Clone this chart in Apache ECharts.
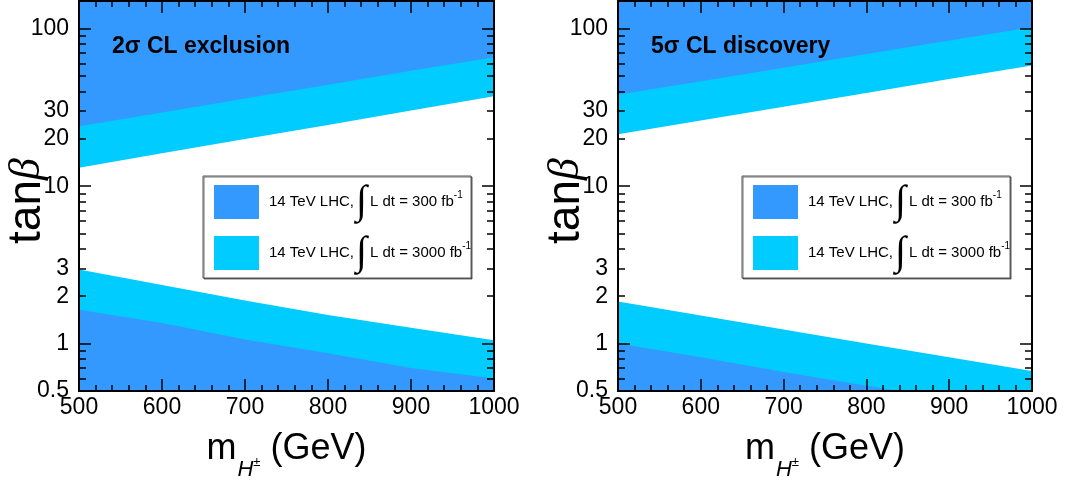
<!DOCTYPE html>
<html><head><meta charset="utf-8">
<script src="https://cdn.jsdelivr.net/npm/echarts@6/dist/echarts.min.js"></script>
<style>html,body{margin:0;padding:0;background:#fff}#c{width:1068px;height:483px}</style>
</head><body><div id="c"></div>
<script>
// ---- data ----
const masses = [500, 600, 700, 800, 900, 1000];
// 2 sigma exclusion panel
const excl300Upper  = [24.0, 29.4, 36.0, 44.0, 54.0, 66.0];
const excl3000Upper = [13.1, 16.2, 19.9, 24.5, 30.2, 37.2];
const excl3000Lower = [2.96, 2.36, 1.88, 1.52, 1.26, 1.05];
const excl300Lower  = [1.64, 1.35, 1.06, 0.87, 0.70, 0.60];
// 5 sigma discovery panel
const disc300Upper  = [38.1, 46.4, 56.6, 69.0, 84.1, 102];
const disc3000Upper = [21.4, 26.1, 32.0, 39.1, 47.9, 58.5];
const disc3000Lower = [1.85, 1.51, 1.23, 1.00, 0.82, 0.67];
const disc300LowerMasses = [500, 600, 700, 800, 840];
const disc300Lower  = [1.00, 0.82, 0.66, 0.54, 0.50];
// ticks
const yTickLabels = [0.5, 1, 2, 3, 10, 20, 30, 100];
const yMajorTicks = [1, 10, 100];
const yMinorTicks = [0.6, 0.7, 0.8, 0.9, 2, 3, 4, 5, 6, 7, 8, 9, 20, 30, 40, 50, 60, 70, 80, 90];
const panelTitles = ['2σ CL exclusion', '5σ CL discovery'];
const legendNames = ['L300', 'L3000'];
const legendLumi = {L300: '300', L3000: '3000'};

const C300 = '#3399ff', C3000 = '#00ccff';
const FONT = 'Liberation Sans, Arial, Helvetica, sans-serif';

const grids = [
  {left: 79, top: 1, width: 415, height: 390, outerBoundsMode: 'none', containLabel: false},
  {left: 618, top: 1, width: 414, height: 390, outerBoundsMode: 'none', containLabel: false}
];

function pairs(xs, ys) { return xs.map((x, i) => [x, ys[i]]); }

const xAxes = [], yAxes = [], series = [], legends = [], titles = [];
const black = {color: '#000', width: 2};
const tickStyle = {color: '#000', width: 1.5};
const AZ = 10;

grids.forEach((g, gi) => {
  // bottom x axis with labels
  xAxes.push({
    gridIndex: gi, type: 'value', min: 500, max: 1000, interval: 100, position: 'bottom', z: AZ,
    axisLine: {show: true, lineStyle: black},
    axisTick: {show: true, inside: true, length: 12, lineStyle: tickStyle},
    minorTick: {show: true, splitNumber: 5, length: 6, lineStyle: tickStyle},
    splitLine: {show: false}, minorSplitLine: {show: false},
    axisLabel: {fontSize: 23, color: '#000', fontFamily: FONT, margin: 5, formatter: v => String(v)},
    name: '{m|m}{h|H}{pm|±}{g| (GeV)}',
    nameLocation: 'middle', nameGap: 38, nameMoveOverlap: false,
    nameTextStyle: {
      color: '#000', fontFamily: FONT,
      rich: {
        m: {fontSize: 36, fontFamily: FONT, color: '#000', lineHeight: 40},
        h: {fontSize: 22, fontFamily: FONT, fontStyle: 'italic', color: '#000', lineHeight: 22, verticalAlign: 'top', padding: [30, 0, 0, 1]},
        pm: {fontSize: 13, fontFamily: FONT, fontStyle: 'italic', color: '#000', lineHeight: 13, verticalAlign: 'top', padding: [27, 0, 0, 0]},
        g: {fontSize: 36, fontFamily: FONT, color: '#000', lineHeight: 40}
      }
    }
  });
  // top x axis (ticks only)
  xAxes.push({
    gridIndex: gi, type: 'value', min: 500, max: 1000, interval: 100, position: 'top', z: AZ,
    axisLine: {show: true, lineStyle: black},
    axisTick: {show: true, inside: true, length: 12, lineStyle: tickStyle},
    minorTick: {show: true, splitNumber: 5, length: 6, lineStyle: tickStyle},
    splitLine: {show: false}, axisLabel: {show: false}
  });
  // left y axis: labels + decade ticks
  yAxes.push({
    gridIndex: gi, type: 'log', logBase: 10, min: 0.5, max: 150, position: 'left', z: AZ,
    axisLine: {show: true, lineStyle: black},
    axisTick: {show: true, inside: true, length: 12, lineStyle: tickStyle, customValues: yMajorTicks},
    axisLabel: {fontSize: 23, color: '#000', fontFamily: FONT, margin: 10, customValues: yTickLabels,
      formatter: v => String(v)},
    splitLine: {show: false},
    name: '{t|tan}{b|β}', nameLocation: 'middle', nameRotate: 90, nameGap: 29, nameMoveOverlap: false,
    nameTextStyle: {
      rich: {
        t: {fontSize: 46, fontFamily: FONT, color: '#000'},
        b: {fontSize: 44, fontFamily: 'Liberation Serif, DejaVu Serif, serif', fontStyle: 'italic', color: '#000', padding: [0, 10, 0, 0]}
      }
    }
  });
  // left y axis: minor ticks
  yAxes.push({
    gridIndex: gi, type: 'log', logBase: 10, min: 0.5, max: 150, position: 'left', z: AZ,
    axisLine: {show: false},
    axisTick: {show: true, inside: true, length: 7, lineStyle: tickStyle, customValues: yMinorTicks},
    axisLabel: {show: false}, splitLine: {show: false}
  });
  // right y axis: decade ticks
  yAxes.push({
    gridIndex: gi, type: 'log', logBase: 10, min: 0.5, max: 150, position: 'right', z: AZ,
    axisLine: {show: true, lineStyle: black},
    axisTick: {show: true, inside: true, length: 12, lineStyle: tickStyle, customValues: yMajorTicks},
    axisLabel: {show: false}, splitLine: {show: false}
  });
  // right y axis: minor ticks
  yAxes.push({
    gridIndex: gi, type: 'log', logBase: 10, min: 0.5, max: 150, position: 'right', z: AZ,
    axisLine: {show: false},
    axisTick: {show: true, inside: true, length: 7, lineStyle: tickStyle, customValues: yMinorTicks},
    axisLabel: {show: false}, splitLine: {show: false}
  });

  const xi = gi * 2, yi = gi * 4;
  const band = (name, data, origin, color) => ({
    type: 'line', name, xAxisIndex: xi, yAxisIndex: yi, data,
    symbol: 'none', lineStyle: {width: 0, color}, itemStyle: {color},
    areaStyle: {color, opacity: 1, origin}, clip: true, silent: true, animation: false
  });
  const sets = gi === 0
    ? {u3000: excl3000Upper, u300: excl300Upper, l3000: pairs(masses, excl3000Lower), l300: pairs(masses, excl300Lower)}
    : {u3000: disc3000Upper, u300: disc300Upper, l3000: pairs(masses, disc3000Lower), l300: pairs(disc300LowerMasses, disc300Lower)};
  series.push(band('L3000', pairs(masses, sets.u3000), 'end', C3000));
  series.push(band('L300', pairs(masses, sets.u300), 'end', C300));
  series.push(band('L3000', sets.l3000, 'start', C3000));
  series.push(band('L300', sets.l300, 'start', C300));

  titles.push({
    text: panelTitles[gi], left: g.left + 28, top: 30,
    textStyle: {fontSize: 23, fontWeight: 'bold', color: '#000', fontFamily: FONT}
  });

  legends.push({
    data: legendNames.map(n => ({name: n, icon: 'rect'})),
    orient: 'vertical', left: g.left + 124, top: 176,
    itemWidth: 45, itemHeight: 34, itemGap: 11,
    padding: [6, 0, 5, 11],
    backgroundColor: '#fff', borderColor: '#555', borderWidth: 1,
    shadowColor: 'rgba(0,0,0,0.55)', shadowOffsetX: 1, shadowOffsetY: 1, shadowBlur: 0,
    selectedMode: false,
    formatter: n => '{t|14 TeV LHC,}{i|∫}{t|L dt = ' + legendLumi[n] + ' fb}{s|-1}',
    textStyle: {
      color: '#000', fontFamily: FONT, fontSize: 15, padding: [0, 0, 0, 5],
      rich: {
        t: {fontSize: 15, fontFamily: FONT, color: '#000'},
        i: {fontSize: 40, fontFamily: 'Liberation Serif, serif', color: '#000', lineHeight: 34, padding: [0, 3, 0, 2]},
        s: {fontSize: 10, fontFamily: FONT, color: '#000', verticalAlign: 'top', lineHeight: 10, padding: [5, 0, 0, 0]}
      }
    }
  });
});

const chart = echarts.init(document.getElementById('c'), null, {renderer: 'canvas'});
chart.setOption({
  animation: false,
  backgroundColor: '#fff',
  grid: grids,
  xAxis: xAxes,
  yAxis: yAxes,
  title: titles,
  legend: legends,
  series
});
</script></body></html>
